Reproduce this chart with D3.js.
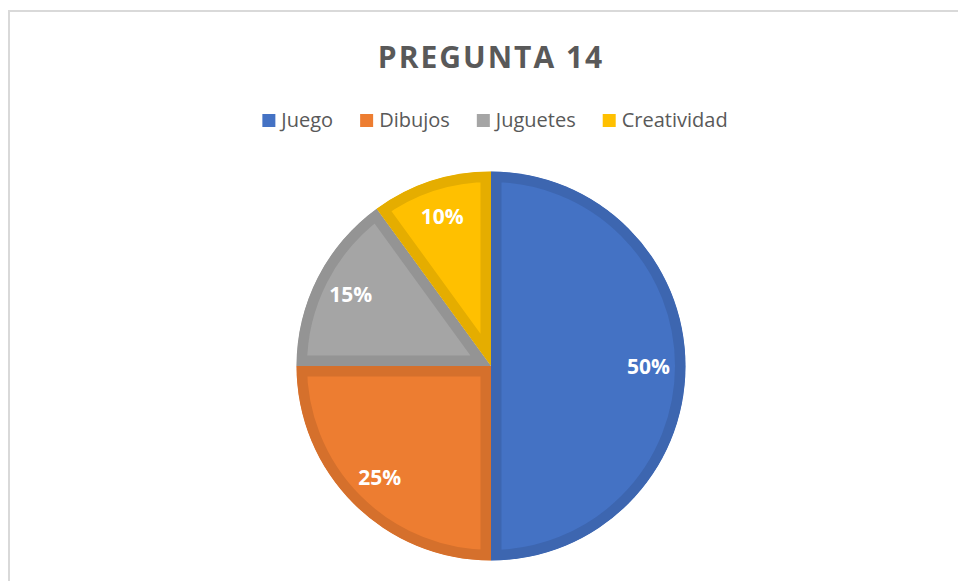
<!DOCTYPE html>
<html>
<head>
<meta charset="utf-8">
<script src="https://cdn.jsdelivr.net/npm/d3@7"></script>
<style>
  html, body { margin: 0; padding: 0; background: #fff; }
  svg { display: block; }
</style>
</head>
<body>
<svg id="chart" width="958" height="581"></svg>
<script>
const title = "PREGUNTA 14";
const categories = ["Juego", "Dibujos", "Juguetes", "Creatividad"];
const values = [50, 25, 15, 10];
const labels = ["50%", "25%", "15%", "10%"];
const colors = ["#4472C4", "#ED7D31", "#A5A5A5", "#FFC000"];

const W = 958, H = 581;
const svg = d3.select("#chart");
const font = "'Open Sans', 'DejaVu Sans', sans-serif";

// frame
svg.append("rect")
  .attr("x", 9).attr("y", 11)
  .attr("width", W + 10).attr("height", H + 10)
  .attr("fill", "#fff").attr("stroke", "#d9d9d9").attr("stroke-width", 2);

// title
svg.append("text")
  .attr("x", 491).attr("y", 68)
  .attr("text-anchor", "middle")
  .attr("font-family", font).attr("font-weight", 700)
  .attr("font-size", 30).attr("letter-spacing", 2)
  .attr("fill", "#595959")
  .text(title);

// legend
const legend = svg.append("g");
const items = legend.selectAll("g").data(categories).join("g");
items.append("rect")
  .attr("width", 13).attr("height", 13)
  .attr("y", 114)
  .attr("fill", (d, i) => colors[i]);
items.append("text")
  .attr("y", 127)
  .attr("font-family", font).attr("font-size", 20)
  .attr("fill", "#595959")
  .text(d => d);
let xpos = 0;
const pos = [];
items.each(function() {
  const tw = d3.select(this).select("text").node().getComputedTextLength();
  pos.push(xpos);
  xpos += 13 + 6 + tw + 27;
});
const total = xpos - 27;
const startX = 495 - total / 2;
items.each(function(d, i) {
  const g = d3.select(this);
  g.select("rect").attr("x", startX + pos[i]);
  g.select("text").attr("x", startX + pos[i] + 19);
});

// pie
const cx = 491, cy = 366, r = 194.5;
const pie = d3.pie().sort(null).value(d => d);
const arcs = pie(values);
const arc = d3.arc().innerRadius(0).outerRadius(r);
const labelArc = d3.arc().innerRadius(r * 0.81).outerRadius(r * 0.81);

const g = svg.append("g").attr("transform", `translate(${cx},${cy})`);
const defs = svg.append("defs");
arcs.forEach((a, i) => {
  defs.append("clipPath").attr("id", "clip" + i)
    .append("path").attr("d", arc(a));
});
g.selectAll("path.slice").data(arcs).join("path")
  .attr("class", "slice")
  .attr("d", arc)
  .attr("fill", (d, i) => colors[i])
  .attr("stroke", (d, i) => d3.color(colors[i]).darker(0.3))
  .attr("stroke-width", 21)
  .attr("stroke-linejoin", "miter")
  .attr("clip-path", (d, i) => `url(#clip${i})`);

g.selectAll("text.lbl").data(arcs).join("text")
  .attr("class", "lbl")
  .attr("transform", d => `translate(${labelArc.centroid(d)})`)
  .attr("text-anchor", "middle")
  .attr("dy", "0.36em")
  .attr("font-family", font).attr("font-weight", 700)
  .attr("font-size", 21)
  .attr("fill", "#fff")
  .text((d, i) => labels[i]);
</script>
</body>
</html>
